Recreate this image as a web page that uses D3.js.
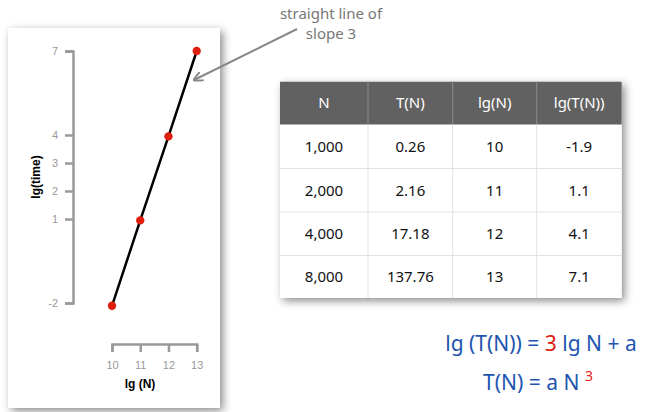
<!DOCTYPE html>
<html>
<head>
<meta charset="utf-8">
<script src="https://cdn.jsdelivr.net/npm/d3@7"></script>
<style>
body { margin: 0; background: #fff; }
svg { display: block; }
</style>
</head>
<body>
<div id="container"></div>
<script>
// plotted points
var lgN = [10, 11, 12, 13];
var lgTime = [-2.1, 0.95, 3.95, 7];
var xTicks = [10, 11, 12, 13];
var yTicks = [-2, 1, 2, 3, 4, 7];

// table columns
var headers = ["N", "T(N)", "lg(N)", "lg(T(N))"];
var colN = ["1,000", "2,000", "4,000", "8,000"];
var colT = ["0.26", "2.16", "17.18", "137.76"];
var colLgN = ["10", "11", "12", "13"];
var colLgT = ["-1.9", "1.1", "4.1", "7.1"];

var W = 649, H = 412;
var svg = d3.select('#container').append('svg')
    .attr('width', W).attr('height', H);

var defs = svg.append('defs');
var f = defs.append('filter').attr('id', 'shadow')
    .attr('x', '-20%').attr('y', '-20%').attr('width', '140%').attr('height', '140%');
f.append('feDropShadow').attr('dx', 3).attr('dy', 3).attr('stdDeviation', 4)
    .attr('flood-color', '#000').attr('flood-opacity', 0.45);

defs.append('marker').attr('id', 'arrow')
    .attr('viewBox', '0 0 10 10').attr('refX', 9).attr('refY', 5)
    .attr('markerWidth', 5).attr('markerHeight', 5).attr('orient', 'auto')
  .append('path').attr('d', 'M0,0L10,5L0,10').attr('fill', 'none')
    .attr('stroke', '#888').attr('stroke-width', 2);

// chart card
svg.append('rect').attr('x', 8).attr('y', 28).attr('width', 212).attr('height', 380)
    .attr('fill', '#fff').attr('filter', 'url(#shadow)');

var x = d3.scaleLinear().domain([10, 13]).range([112, 196.7]);
var y = d3.scaleLinear().domain([-2, 7]).range([303, 51]);

var axisFont = '"Liberation Sans", Arial, sans-serif';
var plain = function(d){ return String(d); };

var gy = svg.append('g').attr('transform', 'translate(73,0)')
    .call(d3.axisLeft(y).tickValues(yTicks).tickFormat(plain)
        .tickSize(8).tickSizeOuter(8).tickPadding(7));
var gx = svg.append('g').attr('transform', 'translate(0,344)')
    .call(d3.axisBottom(x).tickValues(xTicks).tickFormat(plain)
        .tickSize(8).tickSizeOuter(8).tickPadding(9));

[gy, gx].forEach(function(g){
    g.select('.domain').attr('stroke', '#999').attr('stroke-width', 2.5);
    g.selectAll('.tick line').attr('stroke', '#999').attr('stroke-width', 2.5);
    g.selectAll('.tick text').attr('fill', '#999')
        .style('font-family', axisFont).style('font-size', '11px');
});

svg.append('text').attr('transform', 'translate(40,177) rotate(-90)')
    .attr('text-anchor', 'middle')
    .style('font-family', axisFont).style('font-size', '12px').style('font-weight', 'bold')
    .text('lg(time)');
svg.append('text').attr('x', 140).attr('y', 388)
    .attr('text-anchor', 'middle')
    .style('font-family', axisFont).style('font-size', '12px').style('font-weight', 'bold')
    .text('lg (N)');

var pts = lgN.map(function(d, i){ return [d, lgTime[i]]; });
svg.append('path').datum(pts)
    .attr('d', d3.line().x(function(d){ return x(d[0]); }).y(function(d){ return y(d[1]); }))
    .attr('fill', 'none').attr('stroke', '#000').attr('stroke-width', 2.5);
svg.selectAll('circle.pt').data(pts).enter().append('circle')
    .attr('class', 'pt')
    .attr('cx', function(d){ return x(d[0]); })
    .attr('cy', function(d){ return y(d[1]); })
    .attr('r', 4.2).attr('fill', '#e0200f');

// annotation
var noteFont = '"Comic Sans MS", "Noto Sans", sans-serif';
svg.append('text').attr('x', 331).attr('y', 19).attr('text-anchor', 'middle')
    .attr('fill', '#777').style('font-family', noteFont).style('font-size', '15px')
    .text('straight line of');
svg.append('text').attr('x', 331).attr('y', 39).attr('text-anchor', 'middle')
    .attr('fill', '#777').style('font-family', noteFont).style('font-size', '15px')
    .text('slope 3');
svg.append('line').attr('x1', 297).attr('y1', 29).attr('x2', 194).attr('y2', 80)
    .attr('stroke', '#888').attr('stroke-width', 2).attr('marker-end', 'url(#arrow)');

// table
var tableFont = '"Noto Sans", "Open Sans", sans-serif';
var colEdges = [280, 368, 452.7, 536.7, 621.7];
var rowEdges = [81.7, 124.5, 168.5, 212, 255.5, 298];
var rows = colN.map(function(d, i){ return [d, colT[i], colLgN[i], colLgT[i]]; });

var tg = svg.append('g');
tg.append('rect').attr('x', colEdges[0]).attr('y', rowEdges[0])
    .attr('width', colEdges[4] - colEdges[0]).attr('height', rowEdges[5] - rowEdges[0])
    .attr('fill', '#fff').attr('filter', 'url(#shadow)');
tg.append('rect').attr('x', colEdges[0]).attr('y', rowEdges[0])
    .attr('width', colEdges[4] - colEdges[0]).attr('height', rowEdges[1] - rowEdges[0])
    .attr('fill', '#616161');

// grid lines
for (var r = 2; r < 5; r++) {
    tg.append('line').attr('x1', colEdges[0]).attr('x2', colEdges[4])
        .attr('y1', rowEdges[r]).attr('y2', rowEdges[r])
        .attr('stroke', '#e2e2e2').attr('stroke-width', 1);
}
for (var c = 1; c < 4; c++) {
    tg.append('line').attr('x1', colEdges[c]).attr('x2', colEdges[c])
        .attr('y1', rowEdges[0]).attr('y2', rowEdges[1])
        .attr('stroke', '#8a8a8a').attr('stroke-width', 1);
    tg.append('line').attr('x1', colEdges[c]).attr('x2', colEdges[c])
        .attr('y1', rowEdges[1]).attr('y2', rowEdges[5])
        .attr('stroke', '#e2e2e2').attr('stroke-width', 1);
}

headers.forEach(function(h, c){
    tg.append('text').attr('x', (colEdges[c] + colEdges[c + 1]) / 2)
        .attr('y', (rowEdges[0] + rowEdges[1]) / 2).attr('dy', '0.35em')
        .attr('text-anchor', 'middle').attr('fill', '#fff')
        .style('font-family', tableFont).style('font-size', '15px')
        .text(h);
});
rows.forEach(function(row, r){
    row.forEach(function(v, c){
        tg.append('text').attr('x', (colEdges[c] + colEdges[c + 1]) / 2)
            .attr('y', (rowEdges[r + 1] + rowEdges[r + 2]) / 2).attr('dy', '0.35em')
            .attr('text-anchor', 'middle').attr('fill', '#111')
            .style('font-family', tableFont).style('font-size', '15px')
            .text(v);
    });
});

// equations
var eqFont = '"Comic Sans MS", "Noto Sans", sans-serif';
var blue = '#1d55b0', red = '#e0200f';
var eq1 = svg.append('text').attr('x', 541).attr('y', 351).attr('text-anchor', 'middle')
    .attr('fill', blue).style('font-family', eqFont).style('font-size', '21px');
eq1.append('tspan').text('lg (T(N)) = ');
eq1.append('tspan').attr('fill', red).text('3');
eq1.append('tspan').text(' lg N + a');

var eq2 = svg.append('text').attr('x', 538).attr('y', 390).attr('text-anchor', 'middle')
    .attr('fill', blue).style('font-family', eqFont).style('font-size', '21px');
eq2.append('tspan').text('T(N) = a N ');
eq2.append('tspan').attr('fill', red).attr('dy', -9).style('font-size', '14px').text('3');
</script>
</body>
</html>
